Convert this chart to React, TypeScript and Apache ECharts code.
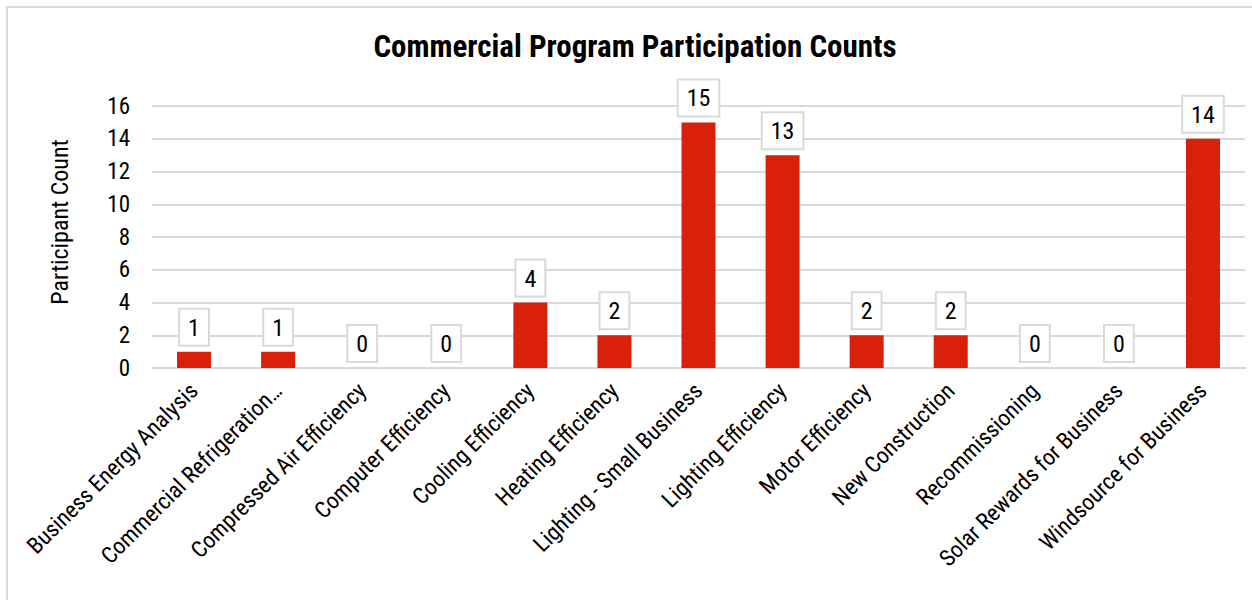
import React, { useEffect, useRef } from "react";
import * as echarts from "echarts";

const categories = [
  "Business Energy Analysis",
  "Commercial Refrigeration…",
  "Compressed Air Efficiency",
  "Computer Efficiency",
  "Cooling Efficiency",
  "Heating Efficiency",
  "Lighting - Small Business",
  "Lighting Efficiency",
  "Motor Efficiency",
  "New Construction",
  "Recommissioning",
  "Solar Rewards for Business",
  "Windsource for Business",
];
const participantCounts = [1, 1, 0, 0, 4, 2, 15, 13, 2, 2, 0, 0, 14];

const FONT = "'Roboto Condensed', 'Liberation Sans Narrow', 'Arial Narrow', sans-serif";

export default function App() {
  const ref = useRef<HTMLDivElement>(null);
  useEffect(() => {
    if (!ref.current) return;
    const chart = echarts.init(ref.current, undefined, { renderer: "svg" });
    chart.setOption({
      animation: false,
      backgroundColor: "#ffffff",
      title: {
        text: "Commercial Program Participation Counts",
        left: 630,
        top: 26,
        textAlign: "center",
        textStyle: { fontFamily: FONT, fontSize: 31, fontWeight: "bold", color: "#000" },
      },
      graphic: [
        {
          type: "rect",
          shape: { x: 7, y: 7, width: 1300, height: 650 },
          style: { fill: "none", stroke: "#d9d9d9", lineWidth: 2 },
          silent: true,
        },
      ],
      grid: { left: 152, right: 7, top: 106, bottom: 232, containLabel: false },
      xAxis: {
        type: "category",
        data: categories,
        axisLine: { show: true, lineStyle: { color: "#d9d9d9", width: 2 } },
        axisTick: { show: false },
        axisLabel: {
          rotate: 45,
          interval: 0,
          margin: 19,
          fontFamily: FONT,
          fontSize: 23,
          color: "#000",
        },
      },
      yAxis: {
        type: "value",
        min: 0,
        max: 16,
        interval: 2,
        name: "Participant Count",
        nameLocation: "middle",
        nameGap: 80,
        nameTextStyle: { fontFamily: FONT, fontSize: 24, color: "#000", padding: [0, 0, 0, 30] },
        axisLine: { show: false },
        axisTick: { show: false },
        axisLabel: { margin: 22, fontFamily: FONT, fontSize: 23, color: "#000" },
        splitLine: { lineStyle: { color: "#d9d9d9", width: 2 } },
      },
      series: [
        {
          type: "bar",
          data: participantCounts,
          barWidth: 34,
          itemStyle: { color: "#d9200a" },
          label: {
            show: true,
            position: "top",
            distance: 7,
            fontFamily: FONT,
            fontSize: 24,
            color: "#000",
            backgroundColor: "#ffffff",
            borderColor: "#d9d9d9",
            borderWidth: 2,
            padding: [6, 8, 5, 8],
          },
        },
      ],
    });
    return () => chart.dispose();
  }, []);
  return (
    <div
      ref={ref}
      style={{ position: "absolute", left: 0, top: 0, width: 1252, height: 600 }}
    />
  );
}
